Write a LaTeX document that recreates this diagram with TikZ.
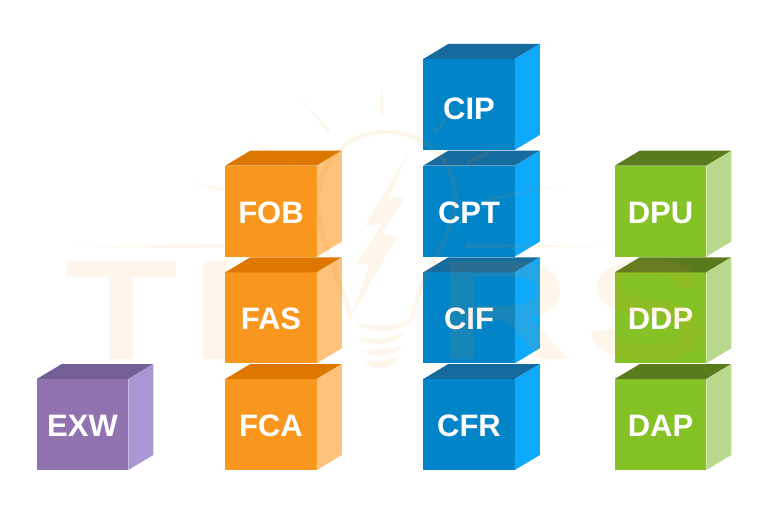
\documentclass[tikz,border=0pt]{standalone}
\usepackage{fontspec}
\usepackage{tikz}
\usetikzlibrary{positioning}
\setmainfont{Liberation Sans}
\newfontfamily\markfont[FakeBold=4]{Liberation Sans}
\definecolor{exwfront}{HTML}{9173B0}
\definecolor{exwtop}{HTML}{735F96}
\definecolor{exwside}{HTML}{AA96D2}
\definecolor{ffront}{HTML}{F9961E}
\definecolor{ftop}{HTML}{DD7700}
\definecolor{fside}{HTML}{FDC27C}
\definecolor{cfront}{HTML}{0284C9}
\definecolor{ctop}{HTML}{156B9E}
\definecolor{cside}{HTML}{0FA9FA}
\definecolor{dfront}{HTML}{84C225}
\definecolor{dtop}{HTML}{5A7A1E}
\definecolor{dside}{HTML}{B8D98C}
\definecolor{markorange}{HTML}{F9901E}
\tikzset{%
  crate/.style = {rectangle,inner sep=0pt,outer sep=0pt,minimum width=91.5pt,
        minimum height=91pt,text=white,text height=24pt,text depth=0pt,
        font=\fontsize{31}{31}\selectfont\bfseries},
  markletter/.style = {inner sep=0pt,text=markorange,
        xscale=1.35,transform shape,
        font=\fontsize{134}{134}\selectfont\markfont},
  markfill/.style = {fill=markorange,draw=none},
  markline/.style = {draw=markorange,fill=none,line cap=round}
}
% name, colour prefix, placement, text
\newcommand{\crate}[4]{%
  \node[crate,fill=#2front,#3] (#1) {#4};
  \fill[#2top] (#1.north west) -- ++(25,15) -- ++(91.5,0) -- (#1.north east) -- cycle;
  \fill[#2side] (#1.north east) -- ++(25,15) -- ++(0,-91) -- (#1.south east) -- cycle;
}

\begin{document}
\begin{tikzpicture}[x=1pt,y=1pt]
\useasboundingbox (0,0) rectangle (768,515);

\crate{exw}{exw}{at={(82.5,90.5)}}{EXW}

\crate{fca}{f}{at={(271,90.5)}}{FCA}
\crate{fas}{f}{above=15.67pt of fca}{FAS}
\crate{fob}{f}{above=15.67pt of fas}{FOB}

\crate{cfr}{c}{at={(469,90.5)}}{CFR}
\crate{cif}{c}{above=15.67pt of cfr}{CIF}
\crate{cpt}{c}{above=15.67pt of cif}{CPT}
\crate{cip}{c}{above=15.67pt of cpt}{\raisebox{-3.5pt}{CIP}}

\crate{dap}{d}{at={(660.5,90.5)}}{DAP}
\crate{ddp}{d}{above=15.67pt of dap}{DDP}
\crate{dpu}{d}{above=15.67pt of ddp}{DPU}

% faint mark over everything
\begin{scope}[transparency group,opacity=0.09]
\node[markletter] (markt) at (121.5,205) {T};
\node[markletter] (marki) at (214.5,205) {I};
\node[markletter] (markr) at (504,205) {R};
\node[markletter] (marks) at (647,205) {S};

\begin{scope}[shift={(0,515)},y=-1pt]
  % bolt
  \fill[markfill] (409,151) -- (389,197) -- (406,197) -- (382,233) -- (397,237)
    -- (351,317) -- (370,263) -- (356,265) -- (382,223) -- (365,226) -- cycle;
  % glass
  \draw[markline,line width=4.5pt] (350,317) .. controls (346,285) and (318,250) .. (318,200)
    .. controls (318,160) and (350,132) .. (386,132)
    .. controls (425,132) and (455,160) .. (455,197)
    .. controls (455,240) and (425,260) .. (412,317);
  % base
  \fill[markfill] (355,323) .. controls (375,328) and (395,326) .. (414,318)
    .. controls (405,332) and (370,336) .. (355,323) -- cycle;
  \fill[markfill] (357,338) .. controls (375,340) and (390,338) .. (404,332)
    .. controls (395,348) and (368,346) .. (357,338) -- cycle;
  \fill[markfill] (359,349) .. controls (375,351) and (390,350) .. (402,345)
    .. controls (395,358) and (368,358) .. (359,349) -- cycle;
  \fill[markfill] (365,361) .. controls (375,362) and (387,361) .. (397,357)
    .. controls (395,370) and (372,372) .. (365,361) -- cycle;
  % rays
  \fill[markfill] (381,90) -- (383,90) -- (384,116) -- (380,116) -- cycle;
  \fill[markfill] (300,98) -- (331,131) -- (328,133) -- cycle;
  \fill[markfill] (465,98) -- (436,133) -- (433,131) -- cycle;
  \fill[markfill] (247,140) -- (296,161) -- (294,165) -- cycle;
  \fill[markfill] (515,140) -- (466,161) -- (468,165) -- cycle;
  \fill[markfill] (193,183) -- (224,188) -- (223,192) -- cycle;
  \fill[markfill] (571,183) -- (484,198) -- (485,202) -- cycle;
  \fill[markfill] (72,247) -- (225,244) -- (225,248) -- cycle;
  \fill[markfill] (614,247) -- (466,243) -- (466,248) -- cycle;
\end{scope}
\end{scope}
\end{tikzpicture}
\end{document}
